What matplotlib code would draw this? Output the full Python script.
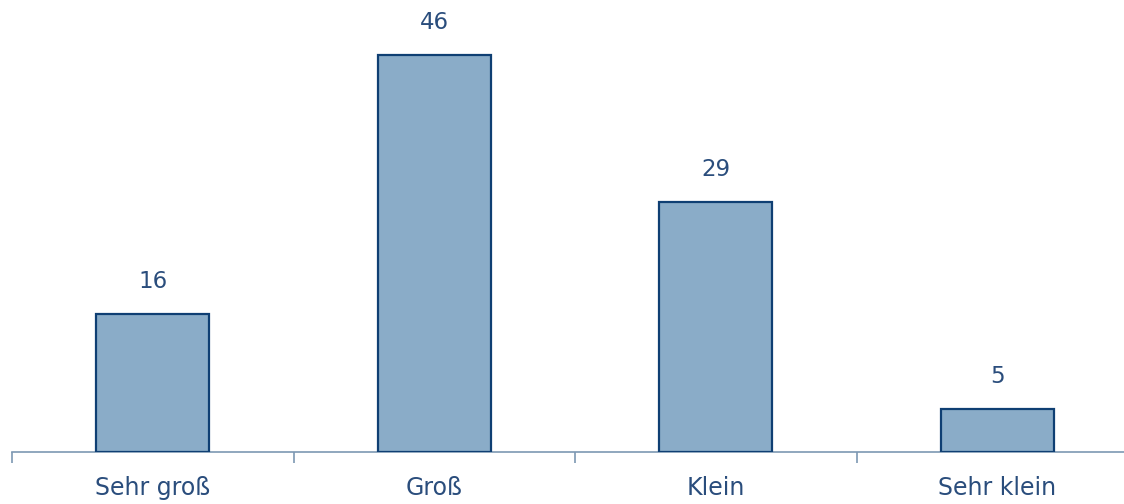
import numpy as np
import matplotlib.pyplot as plt

categories = ["Sehr groß", "Groß", "Klein", "Sehr klein"]
values = [16, 46, 29, 5]

bar_face = "#8AACC8"
bar_edge = "#0F3F73"
text_col = "#2A4D7C"
axis_col = "#7D98B3"

W, H = 1124, 504
fig = plt.figure(figsize=(W / 100, H / 100), dpi=100)
# axes from x=12px to the right edge, baseline at y=452px
left = 12 / W
bottom = 52 / H
ymax = 50
px_per_unit = 397 / 46
height = ymax * px_per_unit / H
ax = fig.add_axes([left, bottom, 1 - left, height])

x = np.arange(len(categories))
ax.bar(x, values, width=0.4, color=bar_face, edgecolor=bar_edge, linewidth=1.6, zorder=3)

for xi, v in zip(x, values):
    ax.annotate(str(v), (xi, v), xytext=(0, 18.5), textcoords="offset points",
                ha="center", va="baseline", fontsize=16.5, color=text_col)

# category labels below the axis
for xi, lab in zip(x, categories):
    ax.annotate(lab, (xi, 0), xycoords=("data", "axes fraction"), xytext=(0, -31),
                textcoords="offset points", ha="center", va="baseline",
                fontsize=17, color=text_col, annotation_clip=False)

ax.set_xlim(-0.5, 3.45)
ax.set_ylim(0, ymax)

for s in ["top", "right", "left"]:
    ax.spines[s].set_visible(False)
ax.spines["bottom"].set_color(axis_col)
ax.spines["bottom"].set_linewidth(1.2)
ax.set_yticks([])

ax.set_xticks(np.arange(-0.5, len(categories) - 0.5, 1.0))
ax.set_xticklabels([])
ax.tick_params(axis="x", which="major", length=8, width=1.2, color=axis_col, direction="out")

fig.savefig("out.png", dpi=100)
